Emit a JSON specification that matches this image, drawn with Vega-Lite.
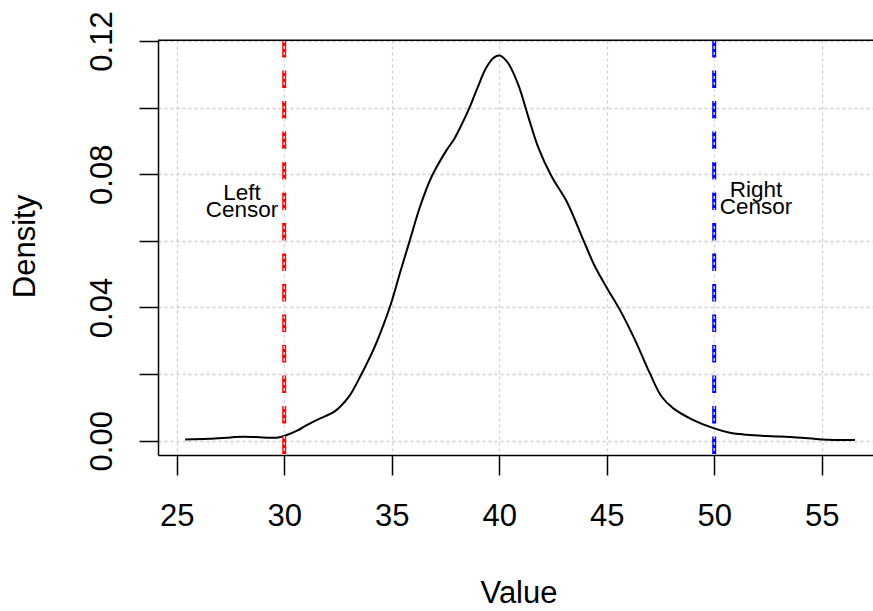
{
  "$schema": "https://vega.github.io/schema/vega-lite/v6.json",
  "width": 715,
  "height": 415,
  "autosize": "none",
  "padding": {"left": 158, "top": 40, "right": 0, "bottom": 156},
  "background": "white",
  "config": {
    "view": {"stroke": null},
    "font": "Liberation Sans",
    "axis": {
      "labelFont": "Liberation Sans",
      "titleFont": "Liberation Sans",
      "labelFontSize": 31,
      "titleFontSize": 31,
      "labelColor": "black",
      "titleColor": "black",
      "titleFontWeight": "normal",
      "domainColor": "black",
      "domainWidth": 1.5,
      "tickColor": "black",
      "tickWidth": 1.5,
      "gridColor": "#cfcfcf",
      "gridWidth": 1.3,
      "gridDash": [3, 3]
    }
  },
  "layer": [
    {
      "data": {"values": [
        {"x": 25.39, "y": 0.0004},
        {"x": 26.5, "y": 0.0006},
        {"x": 27.5, "y": 0.0010},
        {"x": 28.1, "y": 0.0012},
        {"x": 29.0, "y": 0.0010},
        {"x": 29.65, "y": 0.0009},
        {"x": 30.12, "y": 0.0017},
        {"x": 30.6, "y": 0.0030},
        {"x": 31.05, "y": 0.0047},
        {"x": 31.6, "y": 0.0065},
        {"x": 32.28, "y": 0.0085},
        {"x": 32.6, "y": 0.0102},
        {"x": 33.06, "y": 0.0137},
        {"x": 33.53, "y": 0.0192},
        {"x": 34.14, "y": 0.0272},
        {"x": 34.6, "y": 0.0345},
        {"x": 35.0, "y": 0.0418},
        {"x": 35.39, "y": 0.0505},
        {"x": 35.85, "y": 0.0603},
        {"x": 36.32, "y": 0.0703},
        {"x": 36.86, "y": 0.0793},
        {"x": 37.56, "y": 0.0873},
        {"x": 37.9, "y": 0.0905},
        {"x": 38.26, "y": 0.0950},
        {"x": 38.64, "y": 0.1003},
        {"x": 38.98, "y": 0.1058},
        {"x": 39.4, "y": 0.1120},
        {"x": 39.75, "y": 0.1150},
        {"x": 40.04, "y": 0.1156},
        {"x": 40.42, "y": 0.1133},
        {"x": 40.89, "y": 0.1068},
        {"x": 41.35, "y": 0.0973},
        {"x": 41.82, "y": 0.0880},
        {"x": 42.44, "y": 0.0793},
        {"x": 43.14, "y": 0.0718},
        {"x": 43.91, "y": 0.0603},
        {"x": 44.46, "y": 0.0522},
        {"x": 45.07, "y": 0.0452},
        {"x": 45.62, "y": 0.0392},
        {"x": 46.32, "y": 0.0302},
        {"x": 47.01, "y": 0.0202},
        {"x": 47.56, "y": 0.0132},
        {"x": 48.1, "y": 0.0097},
        {"x": 49.03, "y": 0.0062},
        {"x": 50.0, "y": 0.0037},
        {"x": 50.73, "y": 0.0024},
        {"x": 51.5, "y": 0.0018},
        {"x": 52.44, "y": 0.0014},
        {"x": 53.84, "y": 0.0010},
        {"x": 55.0, "y": 0.0004},
        {"x": 56.55, "y": 0.0002}
      ]},
      "mark": {"type": "line", "color": "black", "strokeWidth": 2, "interpolate": "catmull-rom"},
      "encoding": {
        "x": {
          "field": "x", "type": "quantitative", "title": "Value",
          "scale": {"domain": [24.13, 57.386], "nice": false, "zero": false},
          "axis": {
            "values": [25, 30, 35, 40, 45, 50, 55],
            "tickSize": 20,
            "labelPadding": 26,
            "labelFlush": false,
            "labelOverlap": false,
            "titleX": 360.5,
            "titleY": 147.5,
            "titleBaseline": "alphabetic",
            "titleAlign": "center"
          }
        },
        "y": {
          "field": "y", "type": "quantitative", "title": "Density",
          "scale": {"domain": [-0.00429, 0.12029], "nice": false, "zero": false},
          "axis": {
            "values": [0, 0.02, 0.04, 0.06, 0.08, 0.1, 0.12],
            "labelExpr": "round(datum.value * 100) % 4 == 0 ? format(datum.value, '.2f') : ''",
            "tickSize": 19,
            "labelAngle": 270,
            "labelAlign": "center",
            "labelBaseline": "bottom",
            "labelPadding": 21,
            "labelFlush": false,
            "labelOverlap": false,
            "titleX": -123.3,
            "titleY": 206,
            "titleAngle": 270,
            "titleBaseline": "alphabetic",
            "titleAlign": "center"
          }
        }
      }
    },
    {
      "data": {"values": [
        {"x": 30, "side": "left"},
        {"x": 50, "side": "right"}
      ]},
      "mark": {"type": "rule", "strokeWidth": 4, "strokeDash": [17.5, 13]},
      "encoding": {
        "x": {"field": "x", "type": "quantitative", "title": "Value"},
        "color": {
          "field": "side", "type": "nominal",
          "scale": {"domain": ["left", "right"], "range": ["#ff0000", "#0000ff"]},
          "legend": null
        }
      }
    },
    {
      "data": {"values": [
        {"x": 30},
        {"x": 50}
      ]},
      "mark": {"type": "rule", "strokeWidth": 1.3, "strokeDash": [3, 3], "color": "#e6e6e6"},
      "encoding": {
        "x": {"field": "x", "type": "quantitative", "title": "Value"}
      }
    },
    {
      "data": {"values": [
        {"x": 28.04, "y": 0.07226, "label": "Left\nCensor"},
        {"x": 51.94, "y": 0.07325, "label": "Right\nCensor"}
      ]},
      "mark": {"type": "text", "fontSize": 22.5, "lineHeight": 17, "lineBreak": "\n", "align": "center", "baseline": "alphabetic", "color": "black", "font": "Liberation Sans"},
      "encoding": {
        "x": {"field": "x", "type": "quantitative", "title": "Value"},
        "y": {"field": "y", "type": "quantitative", "title": "Density"},
        "text": {"field": "label", "type": "nominal"}
      }
    },
    {
      "data": {"values": [{"y": 0.1202}]},
      "mark": {"type": "rule", "color": "black", "strokeWidth": 1.5},
      "encoding": {
        "y": {"field": "y", "type": "quantitative", "title": "Density"}
      }
    }
  ]
}
